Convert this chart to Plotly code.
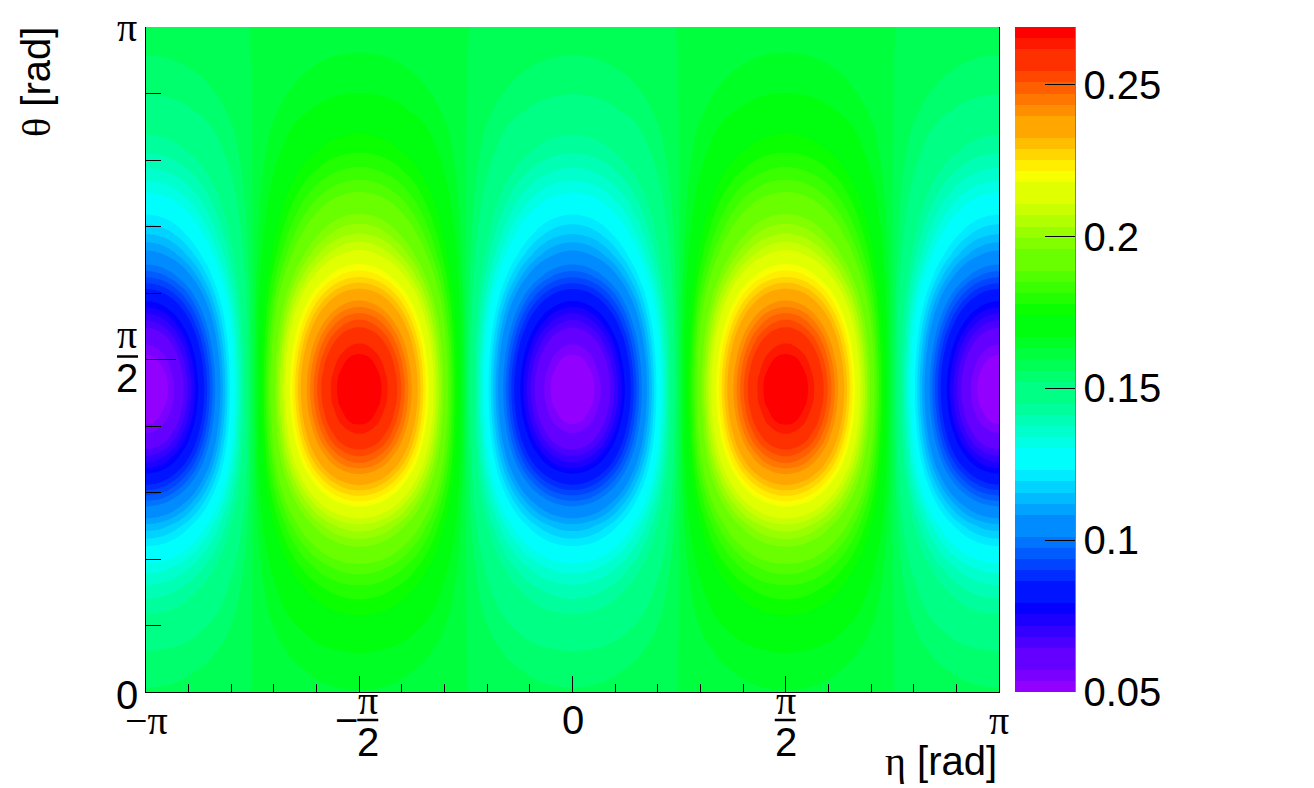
import colorsys
import math
import plotly.graph_objects as go

PI = math.pi
SANS = "Liberation Sans"
SERIF = "Liberation Serif"

# grid positions: eta in units of pi/48, theta in units of pi/32
eta_steps = list(range(-48, 49))
theta_steps = list(range(0, 33))

# level of the flat green background (value where the pattern crosses zero)
base_level = 0.1596

# depth of the blue/red pattern at each theta row (bottom to top)
amp_by_theta = [
    0.0034, 0.0050, 0.0075, 0.0111, 0.0159, 0.0209, 0.0277, 0.0364, 0.0465,
    0.0594, 0.0734, 0.0872, 0.0986, 0.1068, 0.1113, 0.1116, 0.1077, 0.1004,
    0.0902, 0.0782, 0.0652, 0.0535, 0.0442, 0.0364, 0.0295, 0.0232, 0.0179,
    0.0139, 0.0096, 0.0067, 0.0047, 0.0032, 0.0022,
]

# sign and strength of the pattern along eta: -1 blue minima, +1 red maxima
eta_shape = [
    -1.0, -0.9914, -0.9659, -0.9239, -0.866, -0.7934, -0.7071, -0.6088, -0.5, -0.3827, -0.2588, -0.1305,
    0.0, 0.1305, 0.2588, 0.3827, 0.5, 0.6088, 0.7071, 0.7934, 0.866, 0.9239, 0.9659, 0.9914,
    1.0, 0.9914, 0.9659, 0.9239, 0.866, 0.7934, 0.7071, 0.6088, 0.5, 0.3827, 0.2588, 0.1305,
    0.0, -0.1305, -0.2588, -0.3827, -0.5, -0.6088, -0.7071, -0.7934, -0.866, -0.9239, -0.9659, -0.9914,
    -1.0, -0.9914, -0.9659, -0.9239, -0.866, -0.7934, -0.7071, -0.6088, -0.5, -0.3827, -0.2588, -0.1305,
    0.0, 0.1305, 0.2588, 0.3827, 0.5, 0.6088, 0.7071, 0.7934, 0.866, 0.9239, 0.9659, 0.9914,
    1.0, 0.9914, 0.9659, 0.9239, 0.866, 0.7934, 0.7071, 0.6088, 0.5, 0.3827, 0.2588, 0.1305,
    0.0, -0.1305, -0.2588, -0.3827, -0.5, -0.6088, -0.7071, -0.7934, -0.866, -0.9239, -0.9659, -0.9914,
    -1.0,
]

cbar_ticks = [0.05, 0.1, 0.15, 0.2, 0.25]
cbar_labels = ["0.05", "0.1", "0.15", "0.2", "0.25"]
z_min = 0.05
z_max = 0.269
n_levels = 60

eta = [k * PI / 48 for k in eta_steps]
theta = [k * PI / 32 for k in theta_steps]
z = [[base_level + a * s for s in eta_shape] for a in amp_by_theta]

# ROOT-like "pretty" palette: 50 hues from violet down to red
colorscale = []
for i in range(50):
    hue = (280 - (i + 1) * 5.6) / 360
    r, g, b = colorsys.hls_to_rgb(hue, 0.5, 1.0)
    col = "rgb(%d,%d,%d)" % (round(r * 255), round(g * 255), round(b * 255))
    colorscale.append([i / 50, col])
    colorscale.append([(i + 1) / 50, col])

# the page body adds an 8px margin, so the figure is laid out 8px up/left
OFF = 8
W, H = 1314 - OFF, 788 - OFF
# plot box on screen: 146..999 x 27..692
L, R, T, B = 146 - OFF, 999 - OFF, 27 - OFF, 692 - OFF
pw = R - L
ph = B - T

fig = go.Figure(go.Contour(
    x=eta,
    y=theta,
    z=z,
    colorscale=colorscale,
    zmin=z_min,
    zmax=z_max,
    autocontour=False,
    contours=dict(start=z_min, end=z_max, size=(z_max - z_min) / n_levels,
                  coloring="fill", showlines=False),
    line=dict(width=0, smoothing=1.3),
    colorbar=dict(
        thickness=60, thicknessmode="pixels",
        len=1, lenmode="fraction",
        x=(1015 - OFF - L) / pw, xanchor="left", xpad=0,
        y=0.5, yanchor="middle", ypad=0,
        outlinewidth=0,
        tickmode="array", tickvals=cbar_ticks, ticktext=cbar_labels,
        ticks="inside", ticklen=30, tickwidth=1, tickcolor="black",
        tickfont=dict(family=SANS, size=40, color="black"),
    ),
    hoverinfo="skip",
))

fig.update_layout(
    width=W, height=H,
    margin=dict(l=L, r=W - R, t=T, b=H - B, autoexpand=False),
    plot_bgcolor="white", paper_bgcolor="white",
    showlegend=False,
    xaxis=dict(
        range=[-PI, PI], showgrid=False, zeroline=False,
        showline=True, linecolor="black", linewidth=1,
        ticks="inside", tickvals=[-PI, -PI / 2, 0, PI / 2, PI],
        ticklen=16, tickwidth=1, tickcolor="black", showticklabels=False,
        minor=dict(tick0=-PI, dtick=PI / 10, ticks="inside", ticklen=8,
                   tickwidth=1, tickcolor="black", showgrid=False),
    ),
    yaxis=dict(
        range=[0, PI], showgrid=False, zeroline=False,
        showline=True, mirror=True, linecolor="black", linewidth=1,
        ticks="inside", tickvals=[0, PI / 2, PI],
        ticklen=30, tickwidth=1, tickcolor="black", showticklabels=False,
        minor=dict(tick0=0, dtick=PI / 10, ticks="inside", ticklen=15,
                   tickwidth=1, tickcolor="black", showgrid=False),
    ),
)


def label(text, family=SANS, **kw):
    kw.setdefault("xanchor", "center")
    fig.add_annotation(text=text, showarrow=False,
                       font=dict(family=family, size=40, color="black"), **kw)


def bar(**kw):
    fig.add_shape(type="line", line=dict(color="black", width=2.5), **kw)


# x tick labels
label("\u2212\u03c0", SERIF, xref="x", x=-PI, yref="paper", y=0, yanchor="top", yshift=-4)
label("0", SANS, xref="x", x=0, yref="paper", y=0, yanchor="top", yshift=-4)
label("\u03c0", SERIF, xref="x", x=PI, yref="paper", y=0, yanchor="top", yshift=-4)
label("\u2212", SANS, xref="x", x=-PI / 2, xshift=-13, yref="paper", y=0, yanchor="top", yshift=-4)
for xv, dx in [(-PI / 2, 9), (PI / 2, 0)]:
    label("\u03c0", SERIF, xref="x", x=xv, xshift=dx, yref="paper", y=0, yanchor="top", yshift=16)
    label("2", SANS, xref="x", x=xv, xshift=dx, yref="paper", y=0, yanchor="top", yshift=-26)
    bar(xref="x", xsizemode="pixel", xanchor=xv, x0=dx - 11, x1=dx + 10,
        yref="paper", ysizemode="pixel", yanchor=0, y0=-28, y1=-28)

# y tick labels
label("\u03c0", SERIF, xref="paper", x=0, xshift=-19, yref="y", y=PI, yanchor="top", yshift=24)
label("0", SANS, xref="paper", x=0, xshift=-19, yref="y", y=0, yanchor="top", yshift=21)
label("\u03c0", SERIF, xref="paper", x=0, xshift=-19, yref="y", y=PI / 2, yanchor="top", yshift=50)
label("2", SANS, xref="paper", x=0, xshift=-19, yref="y", y=PI / 2, yanchor="top", yshift=6)
bar(xref="paper", xsizemode="pixel", xanchor=0, x0=-29, x1=-8,
    yref="y", ysizemode="pixel", yanchor=PI / 2, y0=3, y1=3)

# axis titles
label("<span style='font-family:Liberation Serif'>\u03b8</span> [rad]", SANS,
      xref="paper", x=(36 - OFF - L) / pw, xanchor="center",
      yref="paper", y=1 + 2 / ph, yanchor="top", textangle=-90)
label("<span style='font-family:Liberation Serif'>\u03b7</span> [rad]", SANS,
      xref="paper", x=1, xanchor="right",
      yref="paper", y=(B - (762 - OFF)) / ph, yanchor="middle")

# right edge of the colour scale
xr = (1075 - OFF - L) / pw
fig.add_shape(type="line", xref="paper", yref="paper", x0=xr, x1=xr, y0=0, y1=1,
              line=dict(color="black", width=1))

fig.write_html("out.html")
